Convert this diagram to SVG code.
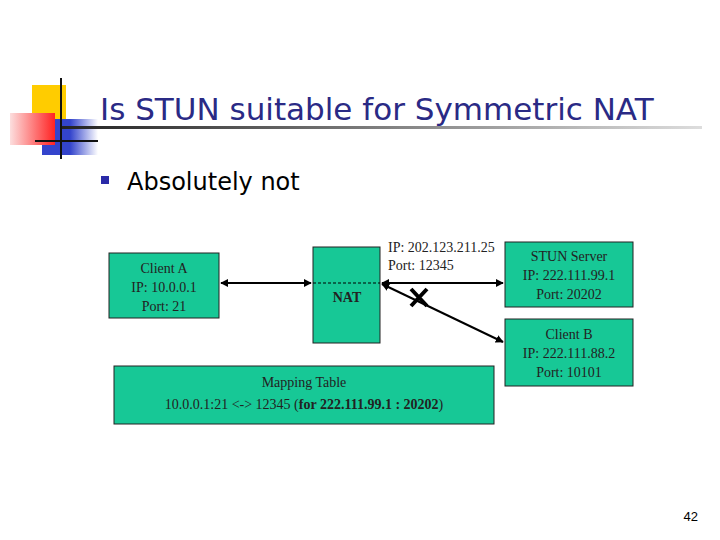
<svg xmlns="http://www.w3.org/2000/svg" width="720" height="540" viewBox="0 0 720 540">
<style>
.box{fill:#17c896;stroke:#222;stroke-width:1}
.t{font-family:"Liberation Serif",serif;font-size:14px;fill:#222;text-anchor:middle}
.c{stroke:#000;stroke-width:2;fill:none}
</style>
<defs>
<marker id="a" viewBox="0 0 10 10" refX="9" refY="5" markerWidth="4" markerHeight="4" orient="auto-start-reverse"><path d="M0,0L10,5L0,10z" fill="#000"/></marker>
<linearGradient id="ul" x1="0" x2="1"><stop offset="0" stop-color="#222"/><stop offset="1" stop-color="#ddd"/></linearGradient>
<linearGradient id="rd" x1="1" x2="0"><stop offset="0" stop-color="#f22"/><stop offset="1" stop-color="#fcdede"/></linearGradient>
<linearGradient id="bl" x1="0" x2="1"><stop offset="0.5" stop-color="#3344cc"/><stop offset="1" stop-color="#fff"/></linearGradient>
</defs>
<rect width="720" height="540" fill="#fff"/>
<g id="logo">
<rect x="32" y="85" width="34" height="34" fill="#ffcc00"/>
<rect x="42" y="119" width="56" height="36" fill="url(#bl)"/>
<rect x="10" y="113" width="45" height="32" fill="url(#rd)"/>
<line x1="61" y1="78" x2="61" y2="159" stroke="#111" stroke-width="2"/>
<line x1="35" y1="141" x2="98" y2="141" stroke="#111" stroke-width="2"/>
</g>
<rect x="62" y="126" width="640" height="3" fill="url(#ul)"/>
<text x="100" y="120" font-family="DejaVu Sans,sans-serif" font-size="31" fill="#2a2a85">Is STUN suitable for Symmetric NAT</text>
<rect x="101" y="176" width="8" height="8" fill="#2a2aa8"/>
<text x="127" y="190" font-family="DejaVu Sans,sans-serif" font-size="24" fill="#000">Absolutely not</text>
<g id="clientA"><rect class="box" x="109" y="253" width="110" height="65"/>
<text class="t" x="164" y="273">Client A</text><text class="t" x="164" y="292">IP: 10.0.0.1</text><text class="t" x="164" y="311">Port: 21</text></g>
<g id="nat"><rect class="box" x="313" y="247" width="67" height="96"/>
<line x1="313" y1="283" x2="380" y2="283" stroke="#000" stroke-dasharray="3,2"/>
<text class="t" x="347" y="302" font-size="16" font-weight="bold">NAT</text></g>
<text x="388" y="252" font-family="Liberation Serif,serif" font-size="14" fill="#222">IP: 202.123.211.25</text>
<text x="388" y="270" font-family="Liberation Serif,serif" font-size="14" fill="#222">Port: 12345</text>
<g id="stun"><rect class="box" x="505" y="242" width="128" height="65"/>
<text class="t" x="569" y="261">STUN Server</text><text class="t" x="569" y="280">IP: 222.111.99.1</text><text class="t" x="569" y="299">Port: 20202</text></g>
<g id="clientB"><rect class="box" x="505" y="319" width="128" height="67"/>
<text class="t" x="569" y="339">Client B</text><text class="t" x="569" y="358">IP: 222.111.88.2</text><text class="t" x="569" y="377">Port: 10101</text></g>
<g id="mapping"><rect class="box" x="114" y="366" width="380" height="58"/>
<text class="t" x="304" y="387" font-size="16">Mapping Table</text>
<text class="t" x="304" y="409" font-size="16">10.0.0.1:21 &lt;-&gt; 12345 (<tspan font-weight="bold">for 222.111.99.1 : 20202</tspan>)</text></g>
<g id="connectors">
<line class="c" x1="221" y1="283" x2="311" y2="283" marker-start="url(#a)" marker-end="url(#a)"/>
<line class="c" x1="382" y1="283" x2="503" y2="283" marker-start="url(#a)" marker-end="url(#a)"/>
<line class="c" x1="382" y1="284" x2="503" y2="342" marker-start="url(#a)" marker-end="url(#a)"/>
<path d="M411,289L427,306M427,289L411,306" stroke="#000" stroke-width="4"/>
</g>
<text x="698" y="521" font-family="Liberation Sans,sans-serif" font-size="13" fill="#000" text-anchor="end">42</text>
</svg>
